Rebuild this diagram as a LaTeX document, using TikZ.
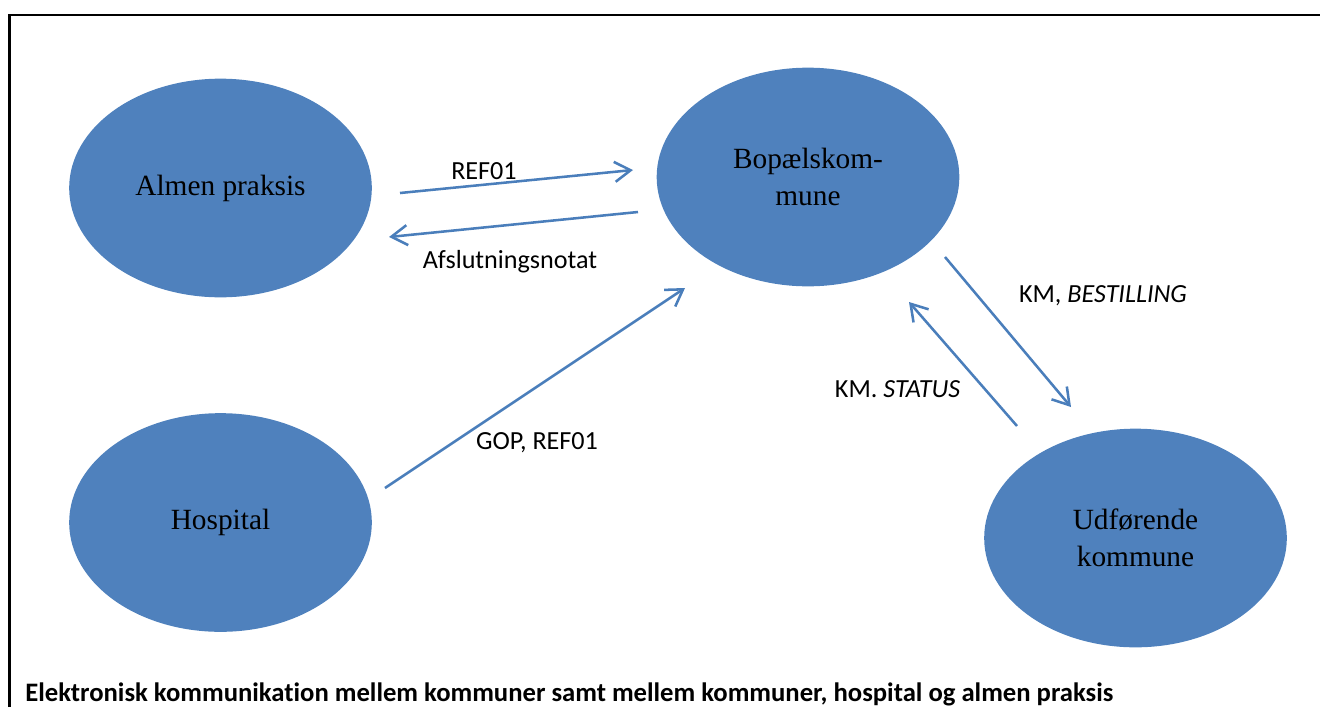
\documentclass[tikz,border=0pt]{standalone}
\usepackage{fontspec}
\setmainfont{Liberation Serif}
\newfontfamily\calibri[Ligatures={NoCommon}]{Carlito}
\usetikzlibrary{arrows.meta,shapes.geometric}
\definecolor{ellblue}{HTML}{4F81BD}
\definecolor{arrblue}{HTML}{4A7EBB}
\begin{document}
\begin{tikzpicture}[x=0.75pt,y=-0.75pt,
  ellnode/.style={ellipse,fill=ellblue,draw=none,minimum width=227pt,minimum height=164pt,
    inner sep=0pt,align=center,font=\fontsize{22}{27.75}\selectfont},
  flow/.style={draw=arrblue,line width=1.9pt,
    -{Straight Barb[length=12pt,width=15pt,line width=1.9pt]}},
  lbl/.style={inner sep=0pt,font=\calibri\fontsize{19.6}{23}\selectfont},
  frameline/.style={draw=black,line width=1.6pt}]
\useasboundingbox (0,0) rectangle (1320,707);
\draw[frameline] (9.5,707) -- (9.5,15) -- (1320,15);

\node[ellnode] (almen) at (220.5,188) {Almen praksis};
\node[ellnode] (bopael) at (808,177) {Bopælskom-\\mune};
\node[ellnode] (hosp) at (220.5,522.5) {Hospital};
\node[ellnode] (udf) at (1135.5,538) {Udførende\\kommune};

\coordinate (r1s) at (400,193);
\coordinate (r1e) at (633,170);
\coordinate (a1s) at (638,212);
\coordinate (a1e) at (389,237);
\coordinate (g1s) at (385,488);
\coordinate (g1e) at (685,288);
\coordinate (b1s) at (945,257);
\coordinate (b1e) at (1071,407);
\coordinate (s1s) at (1017,426);
\coordinate (s1e) at (909,302);

\draw[flow] (r1s) -- (r1e);
\draw[flow] (a1s) -- (a1e);
\draw[flow] (g1s) -- (g1e);
\draw[flow] (b1s) -- (b1e);
\draw[flow] (s1s) -- (s1e);

\node[lbl] (lref) at (484,171) {REF01};
\node[lbl] (lafs) at (510,262) {Afslutningsnotat};
\node[lbl] (lgop) at (537,443) {GOP, REF01};
\node[lbl] (lbest) at (1103,296) {KM, \textit{BESTILLING}};
\node[lbl] (lstat) at (897.5,389) {KM. \textit{STATUS}};

\node[anchor=base west,inner sep=0pt,font=\calibri\bfseries\fontsize{20}{24}\selectfont] (cap) at (25,701)
  {Elektronisk kommunikation mellem kommuner samt mellem kommuner, hospital og almen praksis};
\end{tikzpicture}
\end{document}
